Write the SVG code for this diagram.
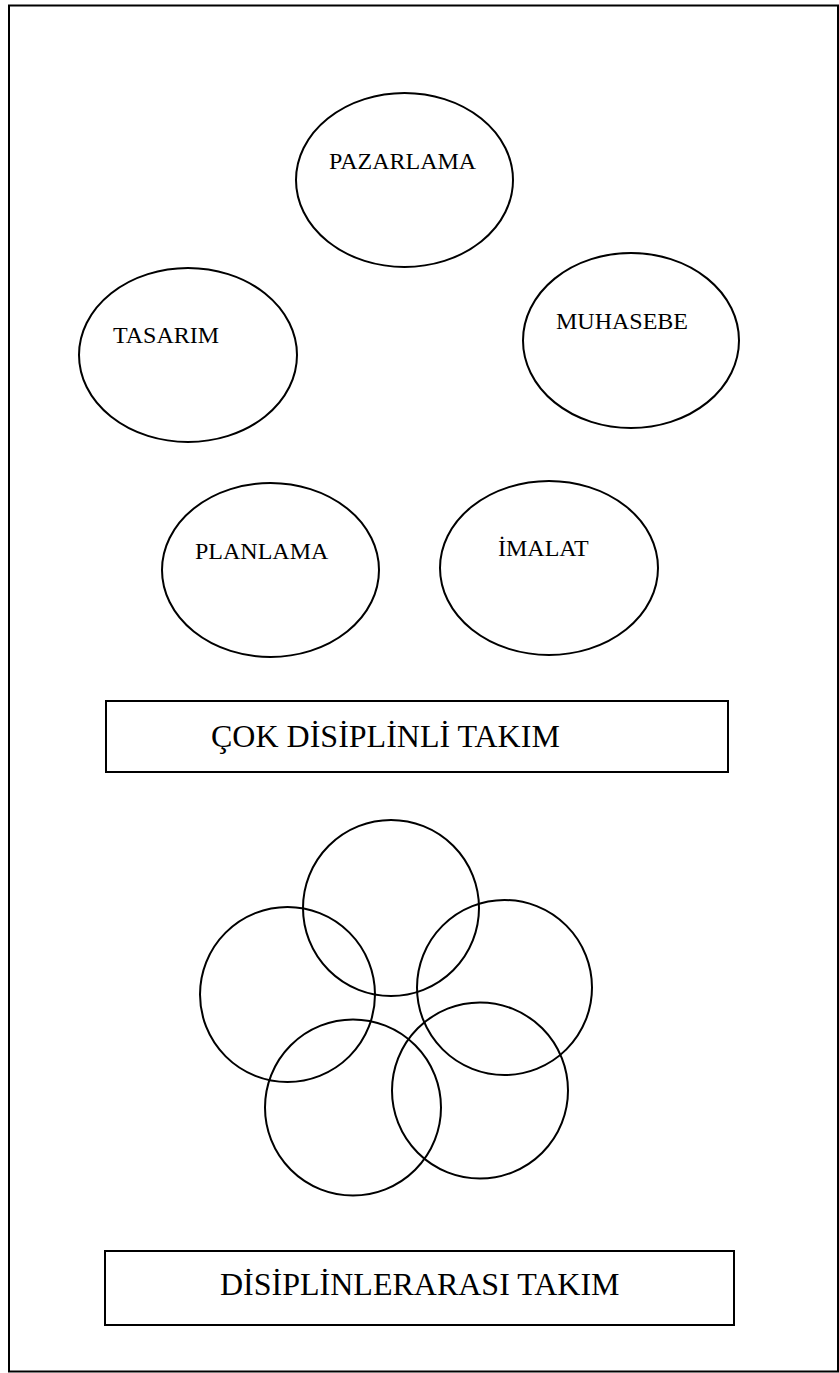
<svg xmlns="http://www.w3.org/2000/svg" width="839" height="1373" viewBox="0 0 839 1373">
  <style>
    .shape { fill: none; stroke: #000; stroke-width: 2; }
    .label { font-family: "Liberation Serif", "Times New Roman", serif; font-size: 24px; fill: #000; }
    .title { font-family: "Liberation Serif", "Times New Roman", serif; font-size: 32px; fill: #000; }
  </style>
  <rect width="839" height="1373" fill="#fff"/>
  <!-- page frame -->
  <rect id="frame" class="shape" x="9" y="5.5" width="829" height="1366"/>

  <!-- multidisciplinary team: separate departments -->
  <g id="pazarlama">
    <ellipse class="shape" cx="404.5" cy="180" rx="108.5" ry="87"/>
    <text class="label" x="329" y="169">PAZARLAMA</text>
  </g>
  <g id="tasarim">
    <ellipse class="shape" cx="188" cy="355" rx="109" ry="87"/>
    <text class="label" x="113" y="343">TASARIM</text>
  </g>
  <g id="muhasebe">
    <ellipse class="shape" cx="631" cy="340.5" rx="108" ry="87.5"/>
    <text class="label" x="556" y="329">MUHASEBE</text>
  </g>
  <g id="planlama">
    <ellipse class="shape" cx="270.5" cy="570" rx="108.5" ry="87"/>
    <text class="label" x="195" y="559">PLANLAMA</text>
  </g>
  <g id="imalat">
    <ellipse class="shape" cx="549" cy="568" rx="109" ry="87"/>
    <text class="label" x="498" y="556">İMALAT</text>
  </g>
  <g id="cok-disiplinli">
    <rect class="shape" x="106" y="701" width="622" height="71"/>
    <text class="title" x="211" y="747">ÇOK DİSİPLİNLİ TAKIM</text>
  </g>

  <!-- interdisciplinary team: overlapping circles -->
  <g id="overlap">
    <circle class="shape" cx="391" cy="908" r="88"/>
    <circle class="shape" cx="287.5" cy="994.5" r="87.5"/>
    <circle class="shape" cx="504.5" cy="987.5" r="87.5"/>
    <circle class="shape" cx="353" cy="1107.5" r="88"/>
    <circle class="shape" cx="480" cy="1090.5" r="88"/>
  </g>
  <g id="disiplinlerarasi">
    <rect class="shape" x="105" y="1251" width="629" height="74"/>
    <text class="title" x="220" y="1295">DİSİPLİNLERARASI TAKIM</text>
  </g>
</svg>
